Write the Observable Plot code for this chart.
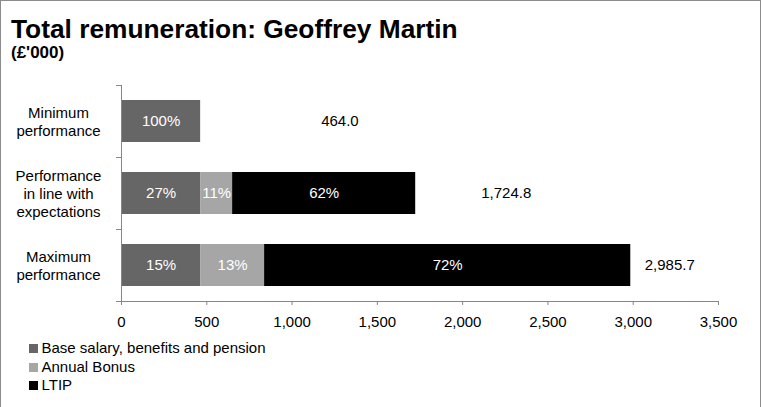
<!DOCTYPE html>
<html>
<head>
<meta charset="utf-8">
<script src="https://cdn.jsdelivr.net/npm/d3@7"></script>
<script src="https://cdn.jsdelivr.net/npm/@observablehq/plot@0.6"></script>
<style>
  body { margin: 0; background: #fff; font-family: "Liberation Sans", Arial, sans-serif; }
  #wrap { position: relative; width: 761px; height: 407px; overflow: hidden; background: #fff; }
  #border { position: absolute; left: 0; top: 0; width: 761px; height: 420px; box-sizing: border-box;
            border: 1px solid #8c8c8c; z-index: 5; pointer-events: none; }
  #title { position: absolute; left: 11px; top: 19px; font-weight: bold; font-size: 26.3px;
           line-height: 20px; height: 20px; white-space: nowrap; color: #000; }
  #subtitle { position: absolute; left: 11px; top: 46px; font-weight: bold; font-size: 17px;
              line-height: 14px; height: 14px; white-space: nowrap; color: #000; }
  #chart { position: absolute; left: 0; top: 80px; }
  #legend { position: absolute; left: 29px; top: 339px; font-size: 15px; color: #000; }
  .row { position: relative; height: 18.5px; line-height: 18.5px; padding-left: 12.5px; white-space: nowrap; }
  .sw { position: absolute; left: 0; top: 5px; width: 9px; height: 9px; }
</style>
</head>
<body>
<div id="wrap">
  <div id="border"></div>
  <div id="title">Total remuneration: Geoffrey Martin</div>
  <div id="subtitle">(£'000)</div>
  <div id="chart"></div>
  <div id="legend"></div>
</div>
<script>
// ---- data ----
const categories = ["Minimum\nperformance", "Performance\nin line with\nexpectations", "Maximum\nperformance"];
const series = ["Base salary, benefits and pension", "Annual Bonus", "LTIP"];
const baseSalary = [464.0, 464.0, 464.0];
const annualBonus = [0, 187.5, 375.0];
const ltip = [0, 1073.3, 2146.7];
const totals = [464.0, 1724.8, 2985.7];
const pctBase = ["100%", "27%", "15%"];
const pctBonus = ["", "11%", "13%"];
const pctLtip = ["", "62%", "72%"];
// invisible helper series (as in the original spreadsheet) that carries the total labels
const labelSpacer = [1633, 1062, 457];
const xTicks = [0, 500, 1000, 1500, 2000, 2500, 3000, 3500];
const seriesColors = ["#666666", "#a6a6a6", "#000000"];

// ---- tables ----
const seriesValues = [baseSalary, annualBonus, ltip];
const seriesPct = [pctBase, pctBonus, pctLtip];
const rows = [];
categories.forEach((c, i) => {
  series.forEach((s, j) => {
    if (seriesValues[j][i] > 0) rows.push({category: c, series: s, value: seriesValues[j][i], pct: seriesPct[j][i]});
  });
});
const totalRows = categories.map((c, i) => ({category: c, total: totals[i], spacer: labelSpacer[i]}));

const axisColor = "#868686";

function frameLines(index, scales, values, dims) {
  const y = scales.y;
  const g = d3.create("svg:g").attr("stroke", axisColor).attr("stroke-width", 1).attr("shape-rendering", "crispEdges");
  const left = dims.marginLeft, right = dims.width - dims.marginRight;
  const top = dims.marginTop, bottom = dims.height - dims.marginBottom;
  g.append("line").attr("x1", left).attr("x2", left).attr("y1", top).attr("y2", bottom);
  g.append("line").attr("x1", left).attr("x2", right).attr("y1", bottom).attr("y2", bottom);
  const bw = typeof y.bandwidth === "function" ? y.bandwidth() : y.bandwidth;
  const starts = categories.map(c => y(c));
  const edges = [top];
  for (let i = 0; i < starts.length - 1; i++) edges.push((starts[i] + bw + starts[i + 1]) / 2);
  edges.push(bottom);
  for (const e of edges) g.append("line").attr("x1", left - 5).attr("x2", left).attr("y1", e).attr("y2", e);
  return g.node();
}

const plot = Plot.plot({
  width: 761,
  height: 260,
  marginTop: 5,
  marginBottom: 39,
  marginLeft: 121,
  marginRight: 43,
  style: {fontFamily: "'Liberation Sans', Arial, sans-serif", fontSize: "15px", color: "#000", background: "transparent", overflow: "visible"},
  x: {domain: [0, 3500], axis: null, label: null},
  y: {domain: categories, paddingInner: 0.417, paddingOuter: 0.208, axis: null, label: null},
  color: {domain: series, range: seriesColors},
  marks: [
    Plot.barX(rows, Plot.stackX({y: "category", x: "value", fill: "series"})),
    Plot.text(rows, Plot.stackX({y: "category", x: "value", text: "pct", fill: "#fff", fontSize: 15})),
    Plot.text(totalRows, {y: "category", x: d => d.total + d.spacer / 2, text: d => d3.format(",.1f")(d.total), fill: "#000", fontSize: 15}),
    Plot.text(categories, {y: d => d, text: d => d, frameAnchor: "left", dx: -63, textAnchor: "middle", lineHeight: 1.2, fill: "#000", fontSize: 15}),
    Plot.axisX({ticks: xTicks, tickFormat: d3.format(","), tickSize: 4, tickPadding: 11, stroke: axisColor, fill: "#000", fontSize: 15, label: null}),
    frameLines
  ]
});
document.getElementById("chart").appendChild(plot);

// ---- legend ----
const legend = document.getElementById("legend");
series.forEach((s, j) => {
  const r = document.createElement("div");
  r.className = "row";
  const sw = document.createElement("span");
  sw.className = "sw";
  sw.style.background = seriesColors[j];
  r.appendChild(sw);
  r.appendChild(document.createTextNode(s));
  legend.appendChild(r);
});
</script>
</body>
</html>
